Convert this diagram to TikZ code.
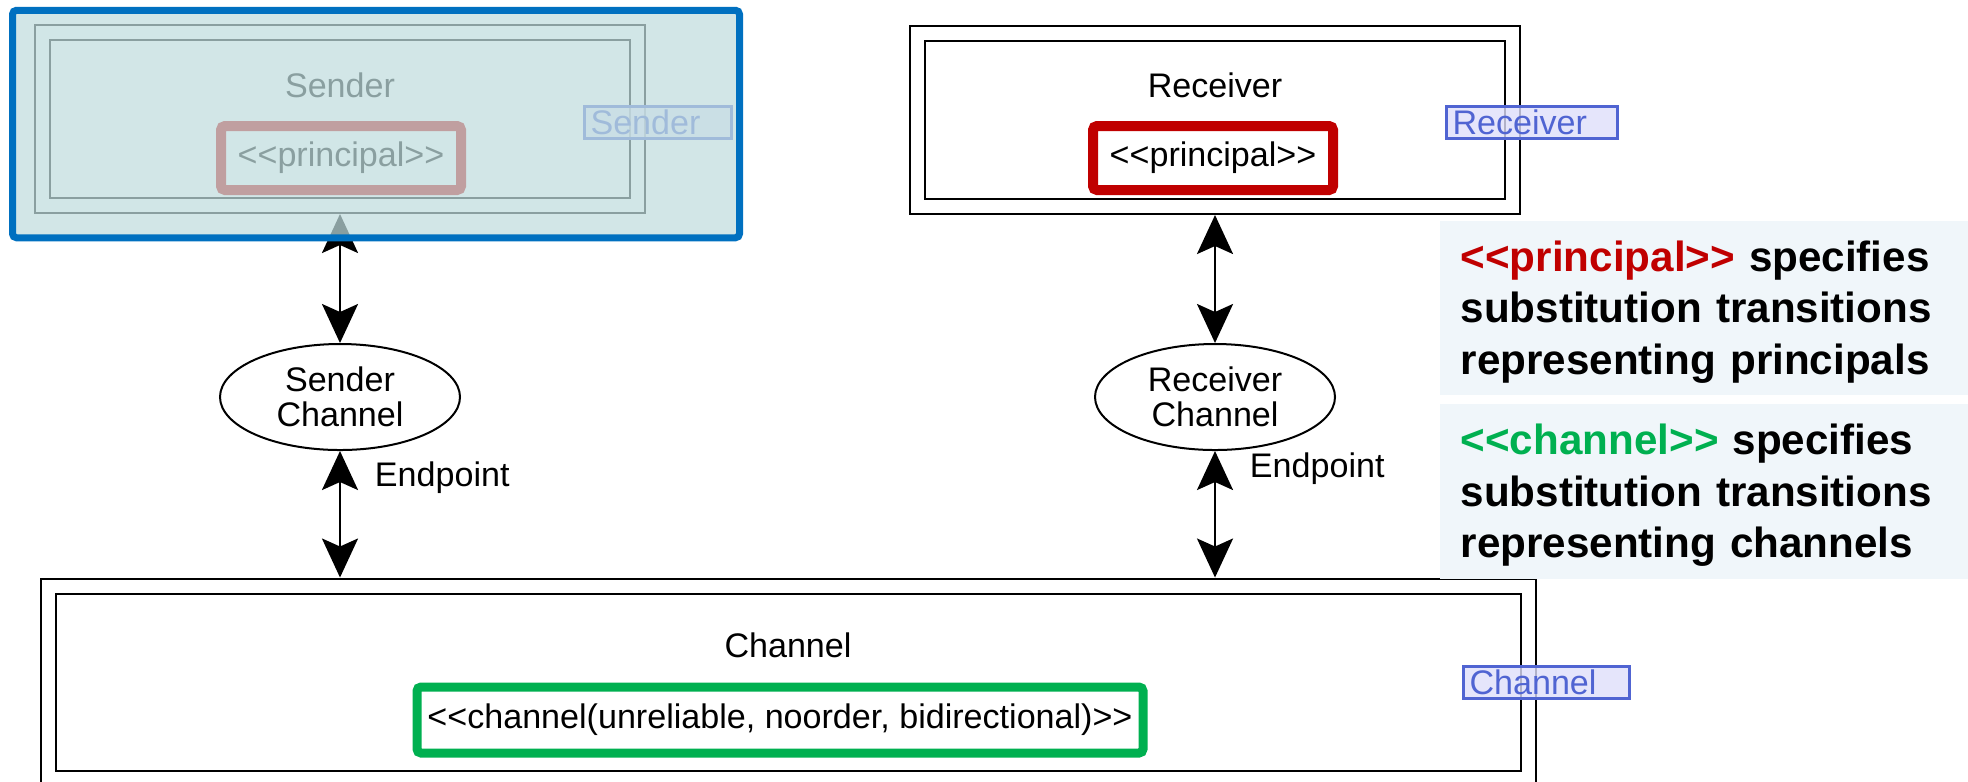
\documentclass[tikz,border=0pt]{standalone}
\usepackage{fontspec}
\newfontfamily\arialfont{Liberation Sans}
\usepackage{xcolor}
\usetikzlibrary{shapes,arrows.meta,positioning,fit,calc}

\definecolor{prinred}{RGB}{192,0,0}
\definecolor{changreen}{RGB}{0,176,80}
\definecolor{hiblue}{RGB}{0,112,192}
\definecolor{hifill}{RGB}{192,221,222}
\definecolor{tagblue}{RGB}{80,100,210}
\definecolor{tagfill}{RGB}{222,222,250}
\definecolor{notefill}{RGB}{240,246,250}

\newcommand{\stype}[1]{<\kern0pt<#1>\kern0pt>}

\begin{document}
\begin{tikzpicture}[
    x=0.1mm, y=-0.1mm,
    font=\arialfont\fontsize{9.7}{11.5}\selectfont,
    module/.style={rectangle, draw, double, double distance=1.3mm, line width=0.2mm, minimum width=59.5mm, minimum height=17.3mm, inner sep=0pt},
    stereo/.style={rectangle, draw, line width=1mm, rounded corners=0.4mm, fill=white, minimum height=6.4mm, inner sep=0pt},
    tag/.style={rectangle, draw=tagblue, fill=tagfill, fill opacity=0.8, text opacity=1, text=tagblue, line width=0.3mm, align=left, minimum height=3.2mm, inner xsep=0.6mm, inner ysep=0pt, anchor=west},
    chan/.style={ellipse, draw, line width=0.2mm, minimum width=24mm, minimum height=10.6mm, inner sep=0pt, align=center, font=\arialfont\fontsize{9.7}{10}\selectfont},
    link/.style={draw, line width=0.25mm, {Stealth[length=3.9mm, width=3.6mm, inset=0.8mm]}-{Stealth[length=3.9mm, width=3.6mm, inset=0.8mm]}},
    highlight/.style={rectangle, draw=hiblue, line width=0.7mm, fill=hifill, fill opacity=0.72, rounded corners=0.4mm, inner sep=0pt},
    note/.style={rectangle, fill=notefill, anchor=north west, minimum width=53mm, text width=48.8mm, inner xsep=2.1mm, align=left, font=\arialfont\bfseries\fontsize{12}{14.6}\selectfont}
]
\useasboundingbox (0,0) rectangle (1968,781);

% sender
\node [module] (sender) at (340,119) {};
\node (sendertitle) at (340,85) {Sender};
\node [stereo, draw=prinred, minimum width=24mm] (senderprin) at (341,158) {\stype{principal}};
\node [tag, text width=13.5mm] (sendertag) at (583,122) {Sender};

% receiver
\node [module] (receiver) at (1215,120) {};
\node (receivertitle) at (1215,85) {Receiver};
\node [stereo, draw=prinred, minimum width=24mm] (receiverprin) at (1213,158) {\stype{principal}};
\node [tag, text width=15.9mm] (receivertag) at (1445,122) {Receiver};

% endpoints
\node [chan] (senderchan) at (340,397) {Sender\\Channel};
\node [chan] (receiverchan) at (1215,397) {Receiver\\Channel};

% channel
\node [module, minimum width=148mm, minimum height=19.2mm] (channel) at (788,682) {};
\node (channeltitle) at (788,645) {Channel};
\node [stereo, draw=changreen, line width=0.9mm, minimum width=72.6mm, minimum height=6.6mm] (channelstereo) at (780,720) {\stype{channel(unreliable, noorder, bidirectional)}};
\node [tag, text width=15.4mm] (channeltag) at (1462,682) {Channel};

\coordinate (senderport) at (senderchan |- channel.north);
\coordinate (receiverport) at (receiverchan |- channel.north);

\path [link, shorten <=0.75mm] (sender) -- (senderchan);
\path [link, shorten >=0.75mm] (senderchan) -- node[pos=0.2, right=2.2mm] {Endpoint} (senderport);
\path [link, shorten <=0.75mm] (receiver) -- (receiverchan);
\path [link, shorten >=0.75mm] (receiverchan) -- node[pos=0.13, right=2.2mm] {Endpoint} (receiverport);

% greyed-out focus
\node [highlight, minimum width=72.7mm, minimum height=22.75mm] (focus) at (376,124) {};

% legend
\node [note, minimum height=17.4mm] (prinnote) at (1439,220) {\rule{0pt}{3.9mm}{\color{prinred}\stype{principal}} specifies\\substitution transitions\\representing principals};
\node [note, minimum height=17.5mm] (channote) at (1439,403) {\rule{0pt}{3.9mm}{\color{changreen}\stype{channel}} specifies\\substitution transitions\\representing channels};

\end{tikzpicture}
\end{document}
